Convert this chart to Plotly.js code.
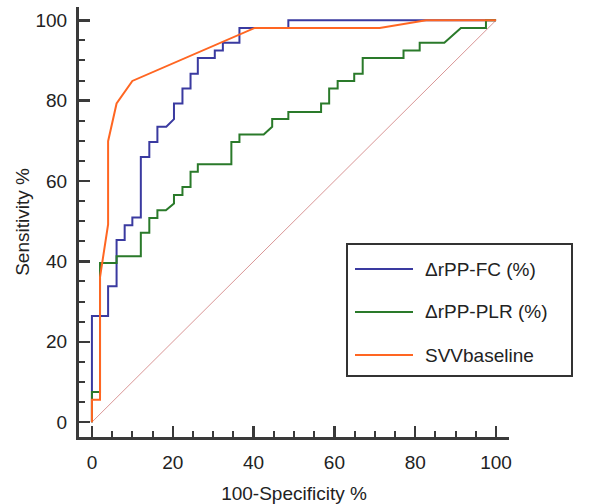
<!DOCTYPE html>
<html>
<head>
<meta charset="utf-8">
<script src="https://cdn.plot.ly/plotly-3.0.1.min.js"></script>
<style>html,body{margin:0;padding:0;background:#fff;}#chart{width:591px;height:504px;}</style>
</head>
<body>
<div id="chart"></div>
<script>
// ---- data ----
const seriesNames = ["\u0394rPP-FC (%)", "\u0394rPP-PLR (%)", "SVVbaseline"];

const fcX = [0,0,4.0,4.0,6.1,6.1,8.1,8.1,10.0,10.0,12.1,12.1,14.2,14.2,16.2,16.2,18.4,20.3,20.3,22.4,22.4,24.4,24.4,26.2,26.2,30.4,30.4,32.4,32.4,36.5,36.5,48.6,48.6,100];
const fcY = [0,26.4,26.4,33.8,33.8,45.3,45.3,49.0,49.0,50.9,50.9,66.0,66.0,69.7,69.7,73.5,73.5,75.4,79.3,79.3,83.0,83.0,86.7,86.7,90.6,90.6,92.5,92.5,94.4,94.4,98.1,98.1,100,100];

const plrX = [0,0,2.0,2.0,6.1,6.1,12.1,12.1,14.2,14.2,16.2,16.2,18.3,20.3,20.3,22.4,22.4,24.4,24.4,26.2,26.2,34.5,34.5,36.5,36.5,42.5,44.6,44.6,48.6,48.6,56.7,56.7,58.7,58.7,60.8,60.8,64.9,64.9,67.0,67.0,77.1,77.1,81.1,81.1,87.2,91.3,97.5,97.5,100];
const plrY = [0,7.5,7.5,39.6,39.6,41.3,41.3,47.1,47.1,50.8,50.8,52.7,52.7,54.4,56.5,56.5,58.5,58.5,62.3,62.3,64.2,64.2,69.7,69.7,71.6,71.6,73.5,75.4,75.4,77.2,77.2,79.3,79.3,83.0,83.0,84.9,84.9,86.7,86.7,90.6,90.6,92.5,92.5,94.4,94.4,98.1,98.1,100,100];

const svvX = [0,0,2.0,2.0,4.0,4.0,6.1,10.0,40.3,71.2,82.7,100];
const svvY = [0,5.6,5.6,36.1,49.2,69.9,79.3,84.9,98.1,98.1,100,100];

const refX = [0,100];
const refY = [0,100];

const tickVals = [0,20,40,60,80,100];
const tickText = ["0","20","40","60","80","100"];

// ---- styling ----
const colors = ["#3a3aa0", "#2a7a2a", "#ff6622"];
const FONT = "Liberation Sans, Arial, Helvetica, sans-serif";
const M = {l:79, r:82, t:7, b:67};
const W = 591 - M.l - M.r, H = 504 - M.t - M.b;
const px2x = p => (p - M.l) / W;
const px2y = p => (504 - M.b - p) / H;

const traces = [
  {x: refX, y: refY, mode:'lines', line:{color:'#d99696', width:1}, showlegend:false, hoverinfo:'skip'},
  {x: fcX, y: fcY, mode:'lines', name: seriesNames[0], line:{color:colors[0], width:2}, showlegend:false},
  {x: plrX, y: plrY, mode:'lines', name: seriesNames[1], line:{color:colors[1], width:2}, showlegend:false},
  {x: svvX, y: svvY, mode:'lines', name: seriesNames[2], line:{color:colors[2], width:2}, showlegend:false}
];

const axisCommon = {
  showline:true, linewidth:3, linecolor:'#3a3a3a', mirror:false,
  showgrid:false, zeroline:false,
  ticks:'inside', ticklen:11, tickwidth:2.5, tickcolor:'#3a3a3a',
  tickmode:'array', tickvals: tickVals, ticktext: tickText,
  tickfont:{family:FONT, size:19, color:'#222'},
  minor:{ticks:'inside', ticklen:6, tickwidth:2, tickcolor:'#3a3a3a', dtick:5, tick0:0, showgrid:false}
};

// legend drawn as a box with sample lines
const legTop = 244, legBottom = 376, legLeft = 347, legRight = 572;
const legRows = [269, 312, 355];
const shapes = [
  {type:'rect', xref:'paper', yref:'paper', x0:px2x(legLeft), x1:px2x(legRight), y0:px2y(legBottom), y1:px2y(legTop),
   line:{color:'#333', width:2}, fillcolor:'#fff', layer:'above'}
];
const annotations = [];
legRows.forEach((r, i) => {
  shapes.push({type:'line', xref:'paper', yref:'paper', x0:px2x(355), x1:px2x(413), y0:px2y(r), y1:px2y(r),
    line:{color:colors[i], width:2}, layer:'above'});
  annotations.push({xref:'paper', yref:'paper', x:px2x(423), y:px2y(r), xanchor:'left', yanchor:'middle',
    text: seriesNames[i], showarrow:false, font:{family:FONT, size:19, color:'#222'}});
});

const layout = {
  width:591, height:504,
  margin:M,
  paper_bgcolor:'#fff', plot_bgcolor:'#fff',
  font:{family:FONT, size:19, color:'#222'},
  showlegend:false,
  xaxis: Object.assign({}, axisCommon, {range:[-3.2,103.2], ticklabelstandoff:6,
    title:{text:'100-Specificity %', font:{family:FONT, size:19, color:'#222'}}}),
  yaxis: Object.assign({}, axisCommon, {range:[-3.7,103.3], ticklabelstandoff:5,
    title:{text:'Sensitivity %', font:{family:FONT, size:19, color:'#222'}}}),
  shapes: shapes,
  annotations: annotations
};

Plotly.newPlot('chart', traces, layout, {displayModeBar:false, staticPlot:true});
</script>
</body>
</html>
